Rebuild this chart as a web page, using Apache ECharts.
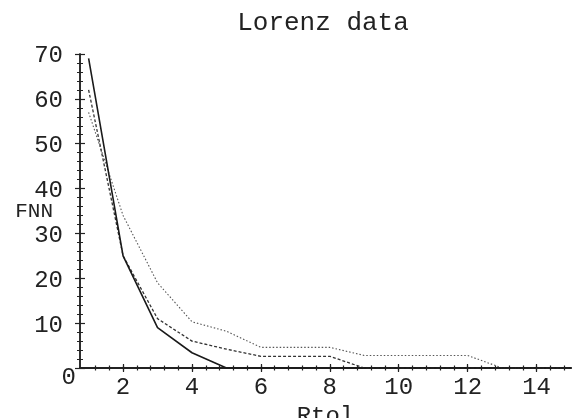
<!DOCTYPE html>
<html>
<head>
<meta charset="utf-8">
<script src="https://cdn.jsdelivr.net/npm/echarts@6/dist/echarts.min.js"></script>
<style>
  html, body { margin: 0; padding: 0; background: #fff; }
  #main { width: 572px; height: 418px; }
</style>
</head>
<body>
<div id="main"></div>
<script>
// Rtol values along the x axis
var rtol = [1, 2, 3, 4, 5, 6, 7, 8, 9, 10, 11, 12, 13, 14, 15];
// FNN for the three runs
var fnnSolid = [69, 25, 9, 3.4, 0, 0, 0, 0, 0, 0, 0, 0, 0, 0, 0];
var fnnDashed = [62, 25, 11, 6, 4.2, 2.6, 2.6, 2.6, 0, 0, 0, 0, 0, 0, 0];
var fnnDotted = [57, 34, 19, 10.3, 8.2, 4.6, 4.6, 4.6, 2.8, 2.8, 2.8, 2.8, 0, 0, 0];
// tick labels
var xMajor = [2, 4, 6, 8, 10, 12, 14];
var xMinor = [];
for (var t = 1.2; t < 15; t += 0.4) xMinor.push(Math.round(t * 10) / 10);

var font = "'Liberation Mono', 'Courier New', monospace";
var ink = "#222";
var fs = 24;

function pairs(ys) {
  return rtol.map(function (x, i) { return [x, ys[i]]; });
}

// every tick style gets its own grid (same rect), so ticks can cross the line
var box = { left: 80, right: 1, top: 54, bottom: 50, outerBoundsMode: "none" };
var grids = [0, 1, 2, 3].map(function () { return Object.assign({}, box); });

function xAx(g, ticks, len, inside, labels) {
  return {
    gridIndex: g, type: "value", min: 0.75, max: 15,
    axisLine: { show: true, lineStyle: { color: ink, width: 1.5 } },
    splitLine: { show: false },
    axisTick: { show: true, customValues: ticks, length: len, inside: inside,
      lineStyle: { color: ink, width: 1.2 } },
    axisLabel: labels ? { show: true, customValues: xMajor, margin: 8,
      color: ink, fontFamily: font, fontSize: fs } : { show: false }
  };
}

function yAx(g, inside, labelZero, hidden) {
  if (hidden) return { gridIndex: g, type: "value", min: 0, max: 70, show: false };
  return {
    gridIndex: g, type: "value", min: 0, max: 70, interval: 10,
    axisLine: { show: true, lineStyle: { color: ink, width: 1.5 } },
    splitLine: { show: false },
    axisTick: { show: true, length: 5, inside: inside, lineStyle: { color: ink, width: 1.2 } },
    minorTick: { show: true, splitNumber: 5, length: 3, lineStyle: { color: ink, width: 1 } },
    minorSplitLine: { show: false },
    axisLabel: {
      show: true, color: ink, fontFamily: font, fontSize: fs,
      margin: labelZero ? 4 : 17,
      formatter: function (v) {
        if (labelZero) return v === 0 ? "{z|0}" : "";
        return v === 0 ? "" : "{n|" + v + "}";
      },
      rich: {
        z: { fontFamily: font, fontSize: fs, color: ink, padding: [20, 0, 0, 0] },
        n: { fontFamily: font, fontSize: fs, color: ink, padding: [4, 0, 0, 0] }
      }
    }
  };
}

var xs = [xAx(0, xMajor, 4, false, true), xAx(1, xMajor, 4, true, false),
          xAx(2, xMinor, 2.5, false, false), xAx(3, xMinor, 2.5, true, false)];
xs[0].name = "Rtol";
xs[0].nameLocation = "middle";
xs[0].nameGap = 37;
xs[0].nameMoveOverlap = false;
xs[0].nameTextStyle = { color: ink, fontFamily: font, fontSize: fs };

var ys = [yAx(0, false, false), yAx(1, true, true), yAx(2, false, false, true), yAx(3, false, false, true)];
ys[0].name = "FNN";
ys[0].nameLocation = "middle";
ys[0].nameRotate = 0;
ys[0].nameGap = 27;
ys[0].nameMoveOverlap = false;
ys[0].nameTextStyle = { color: ink, fontFamily: font, fontSize: 21, verticalAlign: "middle" };

var myChart = echarts.init(document.getElementById("main"));

var option = {
  backgroundColor: "#fff",
  animation: false,
  title: {
    text: "Lorenz data", left: 318, top: 5, textAlign: "center",
    textStyle: { color: ink, fontFamily: font, fontSize: 26, fontWeight: "normal" }
  },
  grid: grids,
  xAxis: xs,
  yAxis: ys,
  series: [
    { name: "solid", type: "line", data: pairs(fnnSolid), showSymbol: false,
      lineStyle: { color: "#1a1a1a", width: 1.6, type: "solid" }, z: 5 },
    { name: "dashed", type: "line", data: pairs(fnnDashed), showSymbol: false,
      lineStyle: { color: "#333", width: 1.3, type: [3, 2] }, z: 4 },
    { name: "dotted", type: "line", data: pairs(fnnDotted), showSymbol: false,
      lineStyle: { color: "#555", width: 1.1, type: [1.5, 2] }, z: 3 }
  ]
};

myChart.setOption(option);
</script>
</body>
</html>
